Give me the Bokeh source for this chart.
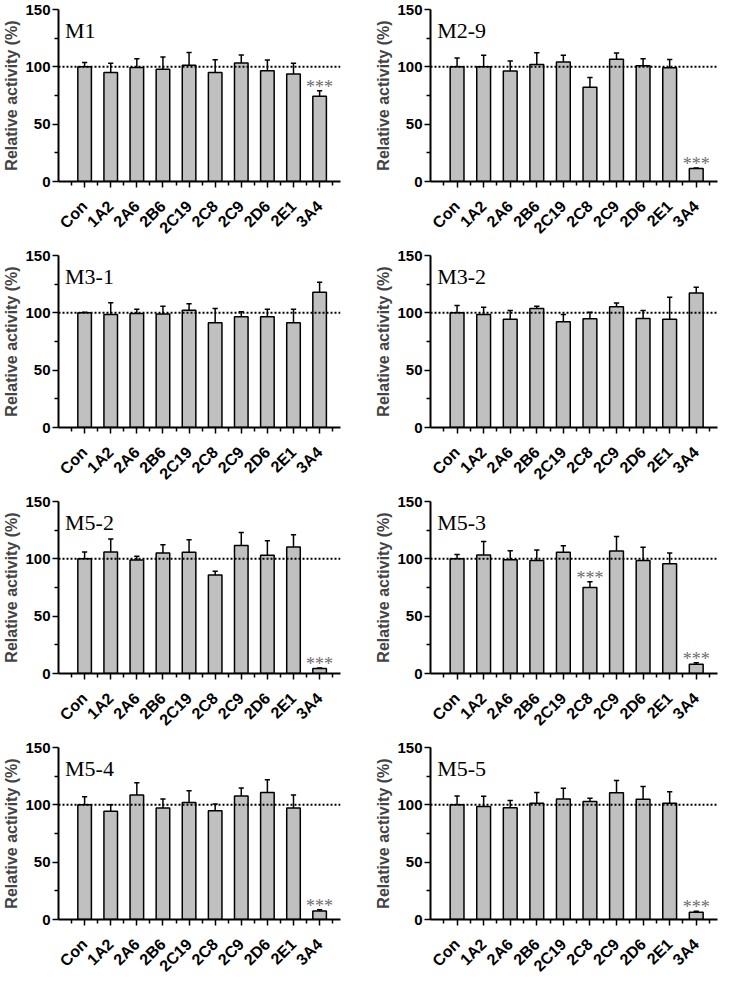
import math
from bokeh.plotting import figure
from bokeh.layouts import gridplot
from bokeh.models import ColumnDataSource, FixedTicker, Span, Label, Range1d
from bokeh.core.properties import value
from bokeh.embed import file_html
from bokeh.resources import INLINE

categories = ["Con", "1A2", "2A6", "2B6", "2C19", "2C8", "2C9", "2D6", "2E1", "3A4"]
y_ticks = [0, 50, 100, 150]

m1_mean = [100, 95.1, 99.4, 98.0, 101.4, 95.1, 103.4, 96.6, 93.7, 74.3]
m1_err = [3.7, 8.0, 7.7, 10.6, 11.0, 11.0, 7.0, 9.4, 9.4, 4.8]
m1_stars = [9]

m29_mean = [100, 100, 96.3, 102.0, 104.3, 82.3, 106.6, 100.9, 99.1, 11.4]
m29_err = [7.7, 10.0, 8.8, 10.3, 5.7, 8.3, 5.4, 6.2, 7.2, 0.4]
m29_stars = [9]

m31_mean = [100, 98.6, 99.4, 98.9, 102.3, 91.4, 96.6, 96.6, 91.4, 118.0]
m31_err = [0.4, 10.3, 3.7, 6.8, 5.7, 12.3, 4.3, 6.5, 11.7, 8.6]
m31_stars = []

m32_mean = [100, 98.6, 94.3, 103.7, 92.2, 94.8, 105.2, 95.1, 94.3, 117.2]
m32_err = [6.3, 6.3, 7.7, 2.0, 6.4, 5.8, 3.4, 6.9, 19.2, 5.2]
m32_stars = []

m52_mean = [100, 106.0, 98.9, 105.1, 105.7, 86.0, 111.7, 103.1, 110.3, 4.3]
m52_err = [6.0, 11.4, 3.4, 7.2, 10.9, 3.1, 11.2, 12.6, 10.6, 0.4]
m52_stars = [9]

m53_mean = [100, 103.4, 99.1, 98.6, 105.7, 75.1, 106.9, 98.6, 95.7, 8.0]
m53_err = [3.7, 11.7, 8.0, 9.1, 5.7, 4.9, 12.5, 11.4, 9.4, 1.4]
m53_stars = [5, 9]

m54_mean = [100, 94.3, 108.5, 97.2, 102.0, 94.9, 107.6, 110.8, 97.2, 7.4]
m54_err = [7.1, 5.7, 10.8, 7.9, 10.2, 5.9, 7.1, 11.0, 11.3, 1.1]
m54_stars = [9]

m55_mean = [100, 98.6, 97.4, 101.4, 105.1, 102.8, 110.5, 104.8, 101.4, 6.3]
m55_err = [7.7, 8.8, 6.3, 9.4, 9.4, 2.9, 10.8, 11.1, 10.0, 0.8]
m55_stars = [9]

panel_names = ["M1", "M2-9", "M3-1", "M3-2", "M5-2", "M5-3", "M5-4", "M5-5"]
panel_means = [m1_mean, m29_mean, m31_mean, m32_mean, m52_mean, m53_mean, m54_mean, m55_mean]
panel_errs = [m1_err, m29_err, m31_err, m32_err, m52_err, m53_err, m54_err, m55_err]
panel_stars = [m1_stars, m29_stars, m31_stars, m32_stars, m52_stars, m53_stars, m54_stars, m55_stars]

SANS = "Liberation Sans"
SERIF = "Liberation Serif"


def make_panel(name, mean, err, stars, col):
    xs = list(range(len(categories)))
    tops = [m + e for m, e in zip(mean, err)]
    src = ColumnDataSource(dict(x=xs, top=mean, etop=tops,
                                xl=[x - 0.1 for x in xs], xr=[x + 0.1 for x in xs]))
    if col == 0:
        bl, br = 52, 20
    else:
        bl, br = 70, 3
    p = figure(width=360, height=246, x_range=Range1d(-1, 9.8), y_range=Range1d(0, 150),
               output_backend="svg", toolbar_location=None,
               min_border_left=bl, min_border_right=br, min_border_top=9, min_border_bottom=65)
    p.outline_line_color = None
    p.xgrid.visible = False
    p.ygrid.visible = False
    p.background_fill_color = "white"

    p.vbar(x="x", top="top", bottom=0, width=0.52, source=src,
           fill_color="#c0c0c0", line_color="black", line_width=1.5)
    p.segment(x0="x", y0="top", x1="x", y1="etop", source=src, line_color="black", line_width=1.5)
    p.segment(x0="xl", y0="etop", x1="xr", y1="etop", source=src, line_color="black", line_width=1.5)

    p.add_layout(Span(location=100, dimension="width", line_color="black",
                      line_width=2, line_dash="2 2"))

    if stars:
        ssrc = ColumnDataSource(dict(x=[xs[i] for i in stars], y=[tops[i] + 3.5 for i in stars],
                                     t=["***" for _ in stars]))
        p.text(x="x", y="y", text="t", source=ssrc, text_align="center", text_baseline="alphabetic",
               text_font=value(SERIF), text_font_size="18px", text_color="#6e6e6e")

    p.add_layout(Label(x=-0.75, y=143, text=name, text_font=SERIF, text_font_size="22px",
                       text_baseline="top", text_color="black"))

    xa = p.xaxis[0]
    xa.ticker = FixedTicker(ticks=xs, minor_ticks=[x + 0.5 for x in range(-1, 10)])
    xa.major_label_overrides = {i: c for i, c in enumerate(categories)}
    xa.major_label_orientation = math.pi / 4
    xa.major_label_text_font = SANS
    xa.major_label_text_font_style = "bold"
    xa.major_label_text_font_size = "16px"
    xa.major_label_text_color = "black"
    xa.major_label_standoff = 16
    xa.axis_line_width = 2
    xa.axis_line_color = "black"
    xa.major_tick_in = 0
    xa.major_tick_out = 6
    xa.minor_tick_in = 0
    xa.minor_tick_out = 4
    xa.major_tick_line_width = 1.5
    xa.minor_tick_line_width = 1.5

    ya = p.yaxis[0]
    ya.ticker = FixedTicker(ticks=y_ticks, minor_ticks=[25, 75, 125])
    ya.axis_label = "Relative activity (%)"
    ya.axis_label_text_font = SANS
    ya.axis_label_text_font_style = "bold"
    ya.axis_label_text_font_size = "16px"
    ya.axis_label_standoff = 2
    ya.major_label_text_font = SANS
    ya.major_label_text_font_style = "bold"
    ya.major_label_text_font_size = "15px"
    ya.major_label_text_color = "black"
    ya.major_label_standoff = 2
    ya.axis_line_width = 2
    ya.major_tick_in = 0
    ya.major_tick_out = 6
    ya.minor_tick_in = 0
    ya.minor_tick_out = 4
    ya.major_tick_line_width = 1.5
    ya.minor_tick_line_width = 1.5
    return p


figs = []
for k in range(len(panel_names)):
    figs.append(make_panel(panel_names[k], panel_means[k], panel_errs[k], panel_stars[k], k % 2))

grid = gridplot([[figs[0], figs[1]], [figs[2], figs[3]], [figs[4], figs[5]], [figs[6], figs[7]]],
                toolbar_location=None)

open("out.html", "w").write(file_html(grid, INLINE))
